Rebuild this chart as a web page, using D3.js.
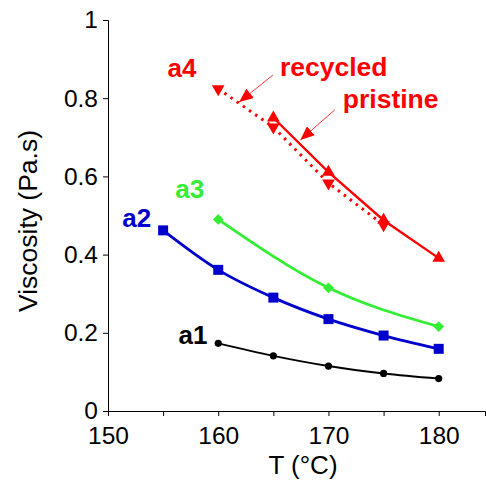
<!DOCTYPE html>
<html><head><meta charset="utf-8">
<script src="https://cdn.jsdelivr.net/npm/d3@7"></script>
<style>body{margin:0;background:#fff} text{font-family:"Liberation Sans",Arial,sans-serif}</style>
</head><body><svg id="c" width="486" height="481"></svg>
<script>
// ---- data ----
const a1T = [160, 165, 170, 175, 180];
const a1V = [0.173, 0.141, 0.115, 0.096, 0.083];
const a2T = [155, 160, 165, 170, 175, 180];
const a2V = [0.462, 0.361, 0.290, 0.235, 0.193, 0.159];
const a3T = [160, 170, 180];
const a3V = [0.490, 0.315, 0.216];
const a4pristineT = [165, 170, 175, 180];
const a4pristineV = [0.750, 0.611, 0.488, 0.391];
const a4recycledT = [160, 165, 170, 175];
const a4recycledV = [0.824, 0.726, 0.583, 0.476];
const xTicks = [150, 155, 160, 165, 170, 175, 180];
const xTickLabels = ["150", "", "160", "", "170", "", "180"];
const yTicks = [0, 0.2, 0.4, 0.6, 0.8, 1];
const yTickLabels = ["0", "0.2", "0.4", "0.6", "0.8", "1"];
const xTitle = "T (°C)";
const yTitle = "Viscosity (Pa.s)";

const svg = d3.select("#c");
const x = d3.scaleLinear().domain([150, 184.2]).range([108, 485]);
const y = d3.scaleLinear().domain([0, 1]).range([411, 20]);

// axes
const xa = svg.append("g").attr("transform", `translate(0,${y(0)})`)
  .call(d3.axisBottom(x).tickValues(xTicks).tickFormat((d, i) => xTickLabels[i])
    .tickSizeOuter(0).tickSize(5).tickPadding(11));
const ya = svg.append("g").attr("transform", `translate(${x(150)},0)`)
  .call(d3.axisLeft(y).tickValues(yTicks).tickFormat((d, i) => yTickLabels[i])
    .tickSizeOuter(0).tickSize(5).tickPadding(5));
[xa, ya].forEach(g => {
  g.selectAll("path,line").attr("stroke", "#000").attr("stroke-width", 1);
  g.selectAll("text").attr("font-size", 24.5).attr("fill", "#000")
    .attr("font-family", '"Liberation Sans",Arial,sans-serif');
});

svg.append("text").attr("x", 303).attr("y", 474).attr("text-anchor", "middle")
  .attr("font-size", 26).text(xTitle);
svg.append("text").attr("transform", `translate(37,221) rotate(-90)`)
  .attr("text-anchor", "middle").attr("font-size", 26.5).text(yTitle);

const zip = (T, V) => T.map((t, i) => [t, V[i]]);
const smooth = d3.line().x(d => x(d[0])).y(d => y(d[1])).curve(d3.curveMonotoneX);
const straight = d3.line().x(d => x(d[0])).y(d => y(d[1]));

const RED = "#ff0000", GREEN = "#33ee33", BLUE = "#0000cc", BLACK = "#000";

// a1
svg.append("path").attr("d", smooth(zip(a1T, a1V))).attr("fill", "none")
  .attr("stroke", BLACK).attr("stroke-width", 2);
svg.selectAll(".m1").data(zip(a1T, a1V)).join("circle")
  .attr("cx", d => x(d[0])).attr("cy", d => y(d[1])).attr("r", 3.6).attr("fill", BLACK);

// a2
svg.append("path").attr("d", smooth(zip(a2T, a2V))).attr("fill", "none")
  .attr("stroke", BLUE).attr("stroke-width", 2.8);
svg.selectAll(".m2").data(zip(a2T, a2V)).join("rect")
  .attr("x", d => x(d[0]) - 5).attr("y", d => y(d[1]) - 5).attr("width", 10).attr("height", 10)
  .attr("fill", BLUE);

// a3
svg.append("path").attr("d", smooth(zip(a3T, a3V))).attr("fill", "none")
  .attr("stroke", GREEN).attr("stroke-width", 2.8);
const diamond = d3.symbol().type(d3.symbolSquare).size(58);
svg.selectAll(".m3").data(zip(a3T, a3V)).join("path")
  .attr("d", diamond).attr("transform", d => `translate(${x(d[0])},${y(d[1])}) rotate(45)`)
  .attr("fill", GREEN);

// a4 recycled (dotted, down triangles)
svg.append("path").attr("d", straight(zip(a4recycledT, a4recycledV))).attr("fill", "none")
  .attr("stroke", RED).attr("stroke-width", 3).attr("stroke-dasharray", "2.5,5");
const tri = d3.symbol().type(d3.symbolTriangle).size(70);
svg.selectAll(".m4r").data(zip(a4recycledT, a4recycledV)).join("path")
  .attr("d", tri).attr("transform", d => `translate(${x(d[0])},${y(d[1])}) rotate(180)`)
  .attr("fill", RED);

// a4 pristine (solid, up triangles)
svg.append("path").attr("d", straight(zip(a4pristineT, a4pristineV))).attr("fill", "none")
  .attr("stroke", RED).attr("stroke-width", 2.4);
svg.selectAll(".m4p").data(zip(a4pristineT, a4pristineV)).join("path")
  .attr("d", tri).attr("transform", d => `translate(${x(d[0])},${y(d[1])})`)
  .attr("fill", RED);

// labels (data units)
const labels = [
  {t: "a4", T: 155.4, V: 0.855, c: RED, s: 26},
  {t: "recycled", T: 165.6, V: 0.857, c: RED, s: 26.5},
  {t: "pristine", T: 171.3, V: 0.775, c: RED, s: 26.5},
  {t: "a3", T: 156.1, V: 0.545, c: GREEN, s: 26},
  {t: "a2", T: 151.3, V: 0.471, c: BLUE, s: 26},
  {t: "a1", T: 156.4, V: 0.171, c: BLACK, s: 26}
];
svg.selectAll(".lab").data(labels).join("text")
  .attr("x", d => x(d.T)).attr("y", d => y(d.V)).attr("fill", d => d.c)
  .attr("font-size", d => d.s).attr("font-weight", "bold").text(d => d.t);

// arrows
svg.append("defs").append("marker").attr("id", "ah").attr("viewBox", "0 0 14 12")
  .attr("refX", 14).attr("refY", 6).attr("markerWidth", 14).attr("markerHeight", 12)
  .attr("markerUnits", "userSpaceOnUse").attr("orient", "auto")
  .append("path").attr("d", "M0,0L14,6L0,12Z").attr("fill", RED);
const arrows = [
  {T0: 164.95, V0: 0.859, T1: 161.9, V1: 0.790},
  {T0: 170.57, V0: 0.770, T1: 167.45, V1: 0.693}
];
svg.selectAll(".arr").data(arrows).join("line")
  .attr("x1", d => x(d.T0)).attr("y1", d => y(d.V0)).attr("x2", d => x(d.T1)).attr("y2", d => y(d.V1))
  .attr("stroke", RED).attr("stroke-width", 0.8).attr("marker-end", "url(#ah)");
</script></body></html>
